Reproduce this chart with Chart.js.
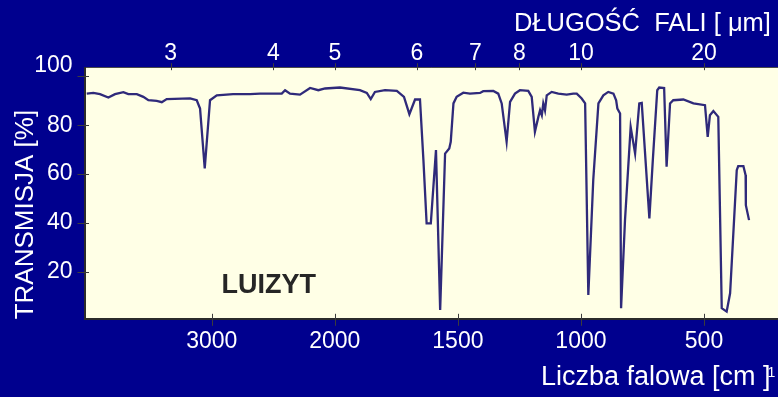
<!DOCTYPE html>
<html><head><meta charset="utf-8">
<script src="https://cdn.jsdelivr.net/npm/chart.js@4/dist/chart.umd.min.js"></script>
<style>html,body{margin:0;padding:0;background:#00008e;overflow:hidden}canvas{display:block}</style>
</head><body>
<canvas id="c" width="778" height="397"></canvas>
<script>
// ---- data ----
const wavenumbers = [4016,3962,3908,3840,3786,3718,3678,3609,3556,3515,3447,3406,3366,3176,3122,3095,3057,3014,2959,2827,2689,2608,2431,2404,2364,2283,2201,2134,2079,1979,1898,1870,1854,1837,1796,1748,1719,1697,1674,1654,1640,1627,1610,1589,1572,1552,1535,1529,1518,1505,1478,1451,1410,1397,1356,1336,1322,1302,1288,1268,1248,1214,1200,1187,1173,1166,1159,1153,1146,1139,1119,1092,1058,1031,1017,997,983,970,950,929,909,889,868,857,852,841,837,821,798,780,763,753,722,708,690,682,662,652,638,625,584,543,496,485,476,462,442,428,408,394,367,361,340,331,330,317];
const transmission = [92.9,93.2,92.7,91.3,92.7,93.5,92.7,92.7,91.6,90.2,89.9,89.4,90.7,91.0,90.2,86.8,62.3,90.2,92.2,92.7,92.7,92.9,92.9,94.3,92.9,92.5,95.2,94.3,95.0,95.4,94.3,93.2,90.7,93.6,94.3,94.0,91.6,84.5,90.5,90.5,65.7,39.9,39.9,69.8,4.5,68.4,70.5,73.2,88.9,91.6,93.3,92.9,93.2,93.9,94.0,92.9,88.9,73.2,89.5,92.9,94.3,94.0,91.6,77.3,83.4,86.1,84.1,88.9,86.1,92.2,93.6,92.9,92.5,92.9,92.9,90.9,88.9,10.6,57.6,88.9,92.2,93.6,92.9,90.2,86.8,84.8,5.2,41.2,79.3,68.4,88.9,89.1,41.9,65.7,94.3,95.4,95.2,63.0,88.9,90.2,90.5,88.9,88.2,75.2,84.1,85.8,83.4,5.2,3.8,11.3,61.6,63.3,63.3,59.6,47.3,41.2];
const bottomTickLabels = [3000, 2000, 1500, 1000, 500];   // cm-1
const topTickLabels = [3, 4, 5, 6, 7, 8, 10, 20];          // µm
const yTickLabels = [20, 40, 60, 80, 100];
const sampleName = 'LUIZYT';
const xTitle = 'Liczba falowa [cm ] ';
const xTitleSup = '1';
const topTitle = 'DŁUGOŚĆ  FALI [ μm] ';
const yTitle = 'TRANSMISJA [%]';

// wavenumber axis has a scale change at 2000 cm-1 (2x compressed above)
function pos(wn){ const u = wn <= 2000 ? wn : 2000 + (wn - 2000) / 2; return -u; }
const X_MIN = pos(4034), X_MAX = pos(199.4);

const points = wavenumbers.map((w, i) => ({x: pos(w), y: transmission[i]}));
const FONT = "'Liberation Sans', Arial, sans-serif";

const deco = {
  id: 'deco',
  beforeDraw(chart){
    const {ctx, chartArea: a} = chart;
    ctx.save();
    ctx.fillStyle = '#00008e';
    ctx.fillRect(0, 0, chart.width, chart.height);
    ctx.fillStyle = '#ffffe6';
    ctx.fillRect(a.left, a.top, a.right - a.left, a.bottom - a.top);
    ctx.restore();
  },
  afterDraw(chart){
    const {ctx, chartArea: a, scales} = chart;
    ctx.save();
    ctx.strokeStyle = '#3c3c3c'; ctx.lineWidth = 1;
    ctx.beginPath();
    yTickLabels.forEach(v => { const p = Math.round(scales.y.getPixelForValue(v)) + 0.5; ctx.moveTo(a.left - 7, p); ctx.lineTo(a.left + 4.5, p); });
    bottomTickLabels.forEach(w => { const p = Math.round(scales.x.getPixelForValue(pos(w))) + 0.5; ctx.moveTo(p, a.bottom - 5.5); ctx.lineTo(p, a.bottom + 6.5); });
    topTickLabels.forEach(l => { const p = Math.round(scales.x2.getPixelForValue(pos(10000 / l))) + 0.5; ctx.moveTo(p, a.top - 4.5); ctx.lineTo(p, a.top + 2.5); });
    ctx.stroke();
    ctx.fillStyle = '#262626';
    ctx.font = 'bold 27px ' + FONT;
    ctx.textAlign = 'left'; ctx.textBaseline = 'alphabetic';
    ctx.fillText(sampleName, a.left + 137, a.bottom - 26);
    ctx.fillStyle = '#ffffff';
    ctx.font = '14px ' + FONT;
    ctx.fillText(xTitleSup, 767.5, 376.7);
    ctx.restore();
  }
};

new Chart(document.getElementById('c'), {
  type: 'line',
  data: { datasets: [{
    data: points, borderColor: '#2f2a7a', borderWidth: 2.3, pointRadius: 0,
    tension: 0, fill: false, xAxisID: 'x', yAxisID: 'y'
  }]},
  options: {
    responsive: false, animation: false, devicePixelRatio: 1,
    layout: { padding: 0 },
    plugins: { legend: { display: false }, tooltip: { enabled: false } },
    scales: {
      x: {
        type: 'linear', position: 'bottom', min: X_MIN, max: X_MAX,
        afterBuildTicks: s => { s.ticks = bottomTickLabels.map(w => ({value: pos(w)})); },
        afterFit: s => { s.height = 77.7; },
        grid: { drawOnChartArea: false, drawTicks: false },
        border: { display: true, color: '#2b2b2b', width: 2 },
        ticks: { color: '#ffffff', font: {family: FONT, size: 23}, padding: 8.2, maxRotation: 0, autoSkip: false,
                 callback: (v, i) => String(bottomTickLabels[i]) },
        title: { display: true, text: xTitle, align: 'end', color: '#ffffff',
                 font: {family: FONT, size: 27}, padding: {top: 0, bottom: 2.8} }
      },
      x2: {
        type: 'linear', position: 'top', min: X_MIN, max: X_MAX,
        afterBuildTicks: s => { s.ticks = topTickLabels.map(l => ({value: pos(10000 / l)})); },
        afterFit: s => { s.height = 67.7; },
        grid: { drawOnChartArea: false, drawTicks: false },
        border: { display: true, color: '#4a4a4a', width: 1 },
        ticks: { color: '#ffffff', font: {family: FONT, size: 23}, padding: 0.6, maxRotation: 0, autoSkip: false,
                 callback: (v, i) => String(topTickLabels[i]) },
        title: { display: true, text: topTitle, align: 'end', color: '#ffffff',
                 font: {family: FONT, size: 25.5}, padding: {top: 8.9, bottom: 0} }
      },
      y: {
        position: 'left', min: 0.66, max: 103.5,
        afterBuildTicks: s => { s.ticks = yTickLabels.map(v => ({value: v})); },
        afterFit: s => { s.width = 84.5; },
        grid: { drawOnChartArea: false, drawTicks: false },
        border: { display: true, color: '#2b2b2b', width: 2 },
        ticks: { color: '#ffffff', padding: 12,
                 font: ctx => ({family: FONT, size: 23, lineHeight: (ctx.tick && ctx.tick.value === 100) ? '22px' : 1.2}),
                 callback: (v, i) => v === 100 ? ['100', ''] : String(yTickLabels[i]) },
        title: { display: true, text: yTitle, align: 'start', color: '#ffffff',
                 font: {family: FONT, size: 26}, padding: {top: 10.6, bottom: 0} }
      }
    }
  },
  plugins: [deco]
});
</script>
</body></html>
